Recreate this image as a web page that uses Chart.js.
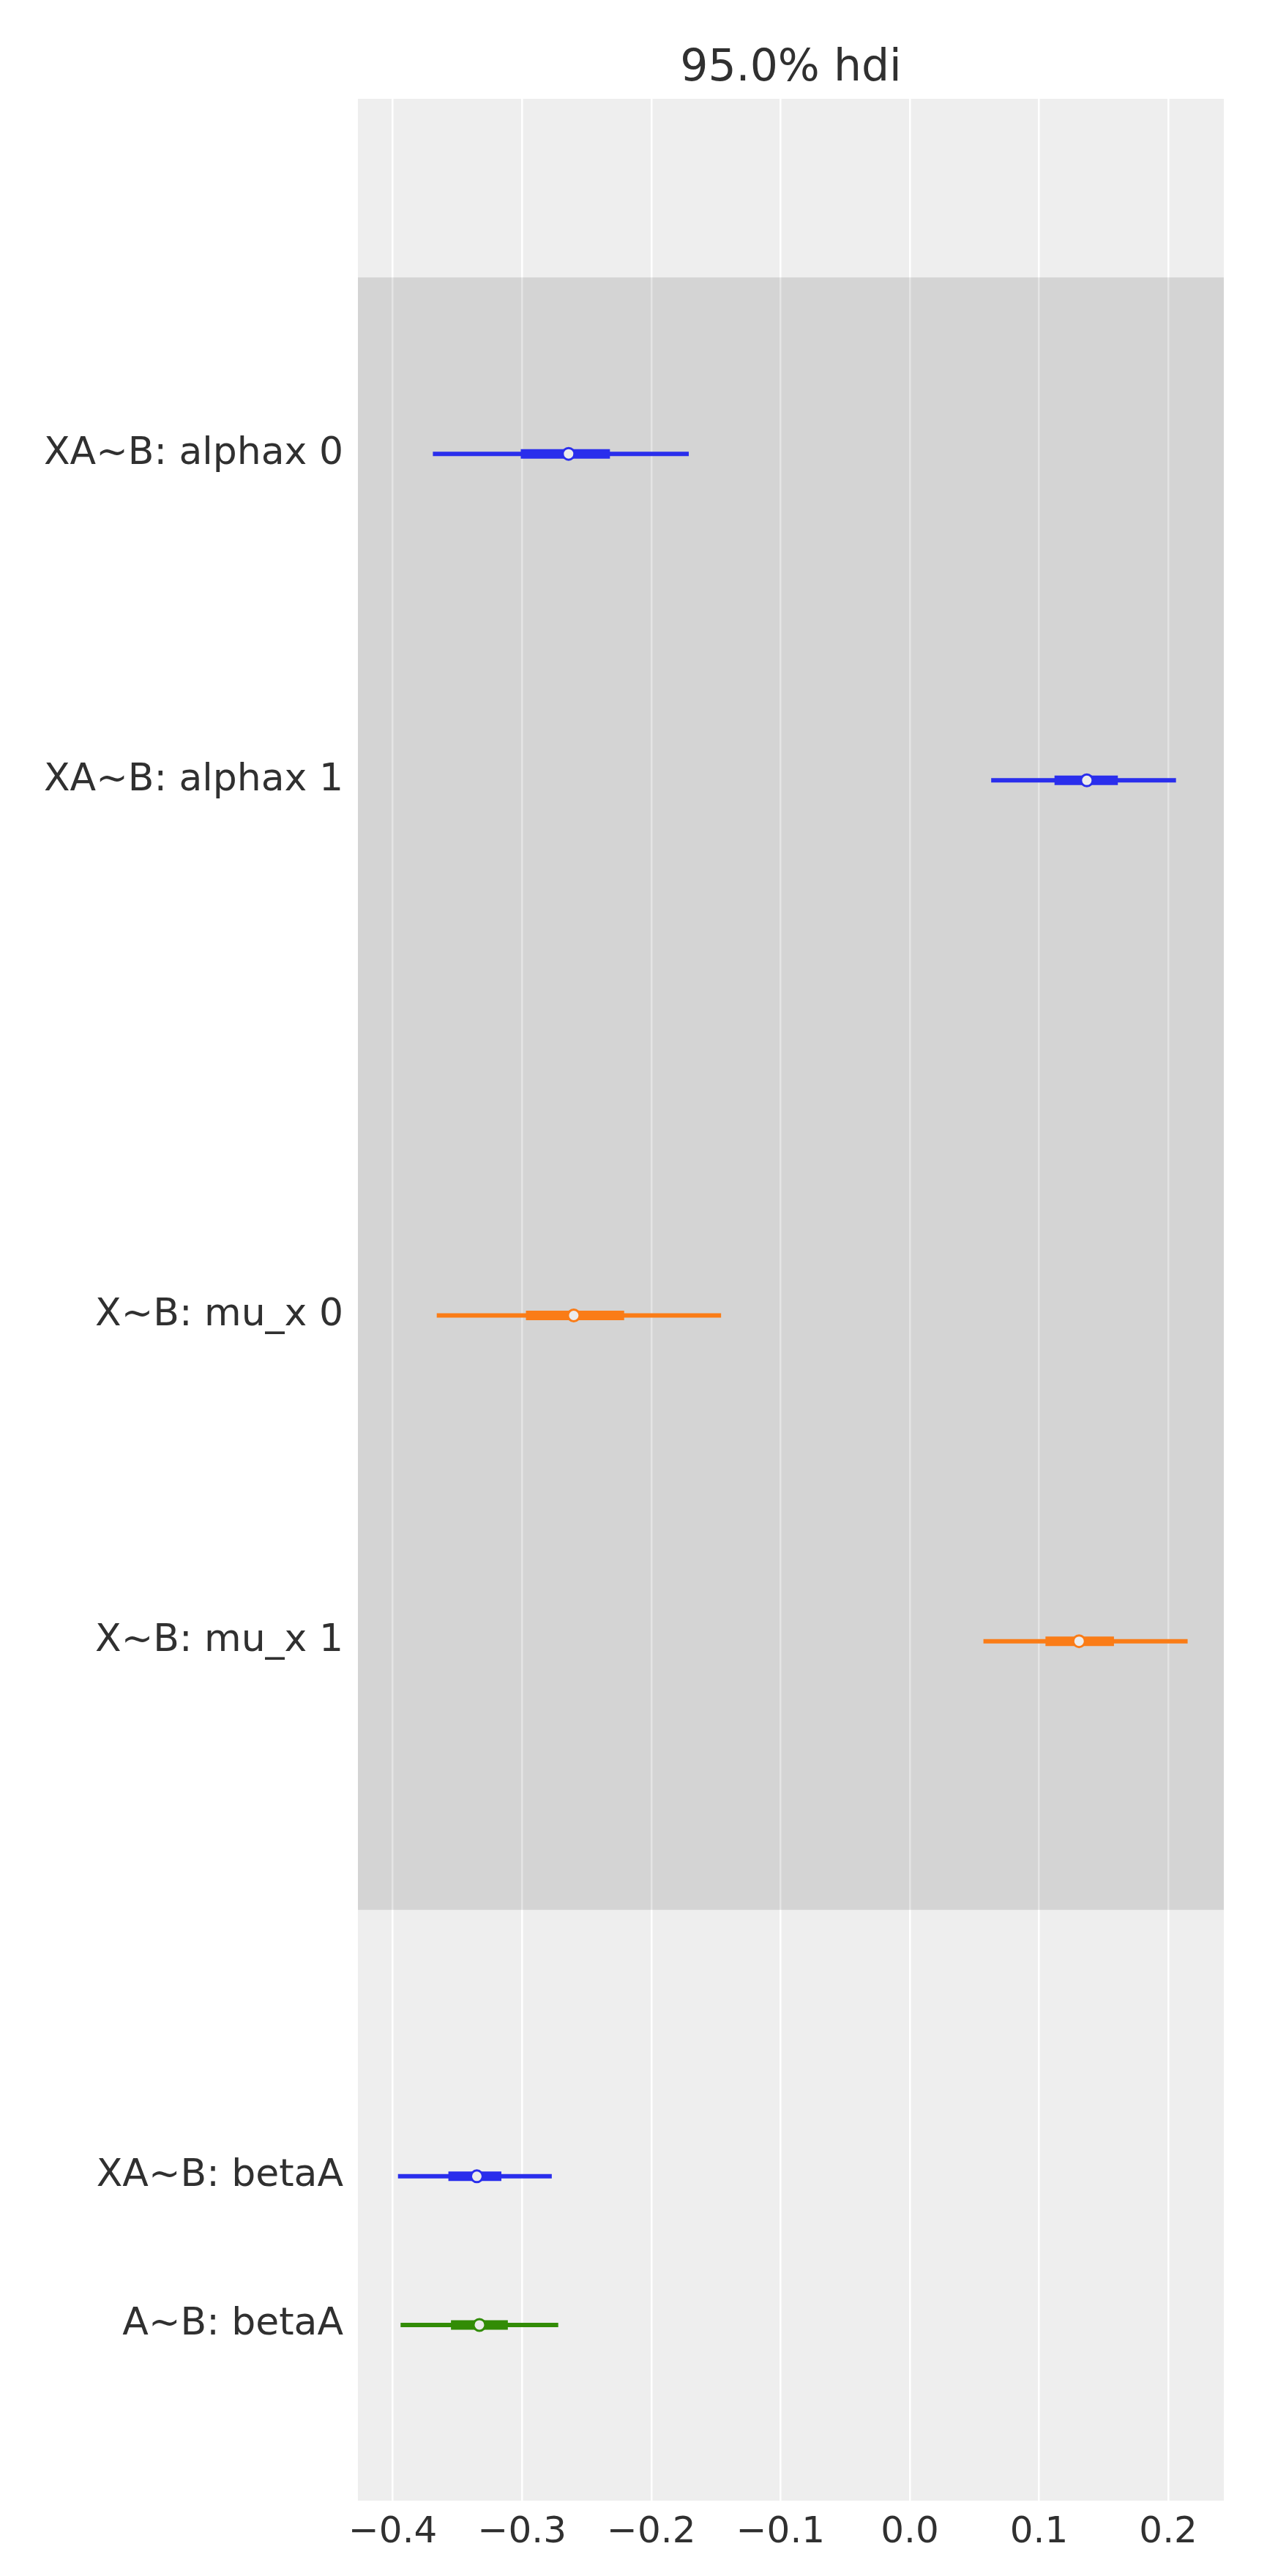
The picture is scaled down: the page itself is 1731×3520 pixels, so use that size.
<!DOCTYPE html>
<html>
<head>
<meta charset="utf-8">
<script src="https://cdn.jsdelivr.net/npm/chart.js@4"></script>
<style>
  html, body { margin: 0; padding: 0; background: #fff; }
  canvas { display: block; }
</style>
</head>
<body>
<canvas id="forest" width="1731" height="3520"></canvas>
<script>
// ═════ DATA ═════
const rowLabels = ['XA~B: alphax 0', 'XA~B: alphax 1', 'X~B: mu_x 0', 'X~B: mu_x 1', 'XA~B: betaA', 'A~B: betaA'];
const rowY      = [27.96, 23.50, 16.19, 11.74, 4.43, 2.40];
const hdiLow    = [-0.369, 0.063, -0.366, 0.057, -0.396, -0.394];
const hdiHigh   = [-0.171, 0.206, -0.146, 0.215, -0.277, -0.272];
const iqrLow    = [-0.301, 0.112, -0.297, 0.105, -0.357, -0.355];
const iqrHigh   = [-0.232, 0.161, -0.221, 0.158, -0.316, -0.311];
const medians   = [-0.264, 0.137, -0.260, 0.131, -0.335, -0.333];
const rowColors = ['#2a2eec', '#2a2eec', '#fa7c17', '#fa7c17', '#2a2eec', '#328c06'];
const xTicks    = [-0.4, -0.3, -0.2, -0.1, 0.0, 0.1, 0.2];
const bandY     = [8.07, 30.37];   // shaded model block
const xRange    = [-0.427, 0.243];
const yRange    = [0, 32.81];

const FONT = 'DejaVu Sans';
const TXT = '#303030';

// ═════ DATASETS ═════
const datasets = [];
rowLabels.forEach((lab, i) => {
  datasets.push({
    type: 'line', label: lab + ' hdi',
    data: [{ x: hdiLow[i], y: rowY[i] }, { x: hdiHigh[i], y: rowY[i] }],
    borderColor: rowColors[i], borderWidth: 6, borderCapStyle: 'butt', pointRadius: 0, order: 3
  });
  datasets.push({
    type: 'line', label: lab + ' iqr',
    data: [{ x: iqrLow[i], y: rowY[i] }, { x: iqrHigh[i], y: rowY[i] }],
    borderColor: rowColors[i], borderWidth: 13, borderCapStyle: 'butt', pointRadius: 0, order: 2
  });
  datasets.push({
    type: 'scatter', label: lab + ' median',
    data: [{ x: medians[i], y: rowY[i] }],
    pointRadius: 8, pointBackgroundColor: '#ececec', pointBorderColor: rowColors[i], pointBorderWidth: 3, order: 1
  });
});

// ═════ PLUGINS ═════
const panelBg = {
  id: 'panelBg',
  beforeDraw(chart) {
    const { ctx, chartArea: a } = chart;
    ctx.save();
    ctx.fillStyle = '#fff';
    ctx.fillRect(0, 0, chart.width, chart.height);
    ctx.fillStyle = '#eeeeee';
    ctx.fillRect(a.left, a.top, a.right - a.left, a.bottom - a.top);
    ctx.restore();
  },
  beforeDatasetsDraw(chart) {
    const { ctx, chartArea: a, scales: { y } } = chart;
    const top = y.getPixelForValue(bandY[1]), bot = y.getPixelForValue(bandY[0]);
    ctx.save();
    ctx.fillStyle = 'rgba(0,0,0,0.105)';
    ctx.fillRect(a.left, top, a.right - a.left, bot - top);
    ctx.restore();
  }
};

new Chart(document.getElementById('forest'), {
  type: 'scatter',
  data: { datasets },
  options: {
    responsive: false, animation: false,
    layout: { padding: { left: 0, right: 59, top: 0, bottom: 0 } },
    plugins: { legend: { display: false }, tooltip: { enabled: false } },
    scales: {
      x: {
        type: 'linear', position: 'bottom', min: xRange[0], max: xRange[1],
        afterBuildTicks: s => { s.ticks = xTicks.map(v => ({ value: v })); },
        afterFit: s => { s.height = 103; },
        grid: { color: '#ffffff', lineWidth: 2.5, drawTicks: false },
        border: { display: false },
        ticks: {
          color: TXT, font: { family: FONT, size: 50 }, padding: 14,
          callback: v => (v < -1e-9 ? '\u2212' + Math.abs(v).toFixed(1) : Math.abs(v).toFixed(1))
        }
      },
      x2: {
        type: 'linear', position: 'top', min: xRange[0], max: xRange[1],
        afterFit: s => { s.height = 135; },
        grid: { display: false }, border: { display: false },
        ticks: { display: false },
        title: { display: true, text: '95.0% hdi', color: TXT, font: { family: FONT, size: 60 }, padding: { top: 58, bottom: 0 } }
      },
      y: {
        type: 'linear', min: yRange[0], max: yRange[1],
        afterBuildTicks: s => { s.ticks = rowY.map(v => ({ value: v })); },
        afterFit: s => { s.width = 489; },
        grid: { display: false }, border: { display: false },
        ticks: {
          color: TXT, font: { family: FONT, size: 52 }, padding: 12, autoSkip: false,
          callback: v => { const i = rowY.indexOf(v); return i >= 0 ? rowLabels[i] : ''; }
        }
      }
    }
  },
  plugins: [panelBg]
});
</script>
</body>
</html>
